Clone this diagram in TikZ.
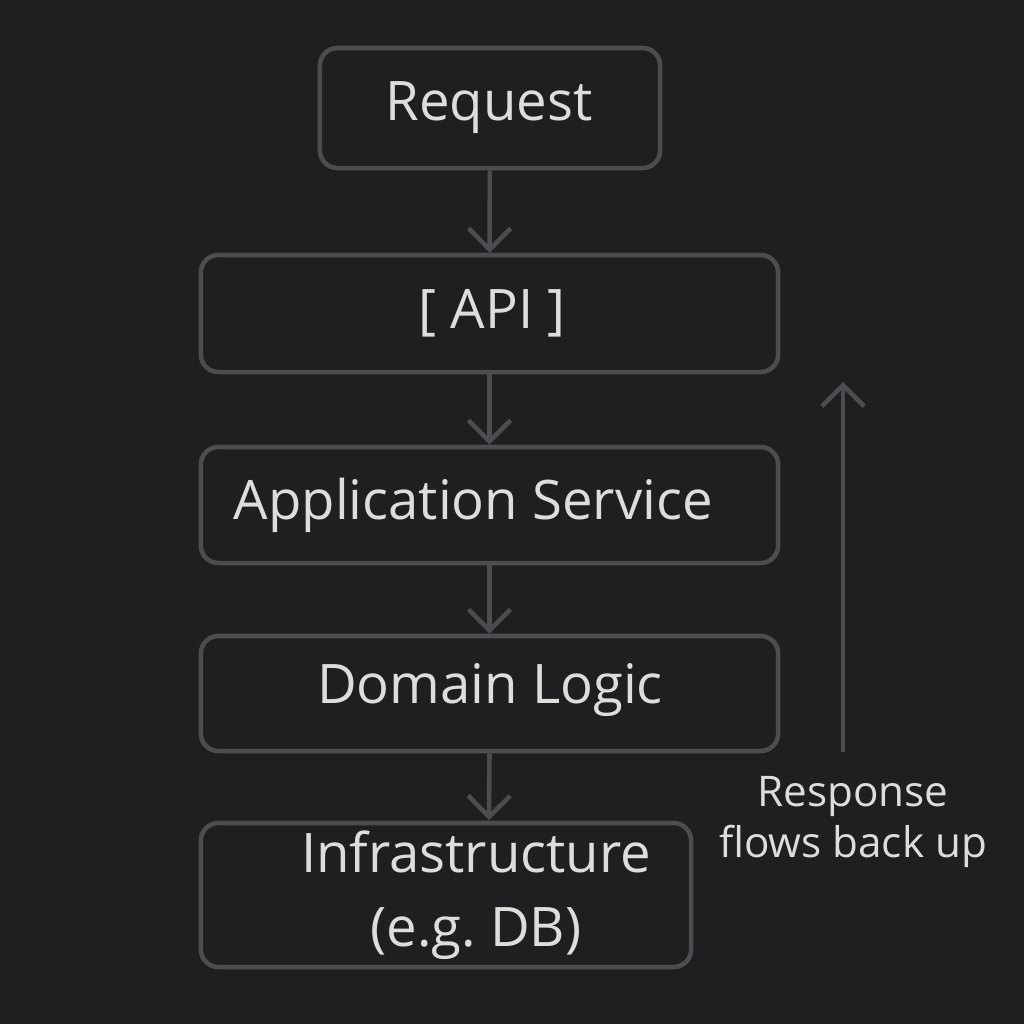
\documentclass[tikz,border=0pt]{standalone}
\usepackage{fontspec}
\setmainfont{Open Sans}
\usetikzlibrary{arrows.meta}
\definecolor{bgdark}{HTML}{1E1F21}
\definecolor{boxline}{HTML}{4C4D50}
\definecolor{labeltxt}{HTML}{DDDDDD}
\begin{document}
\begin{tikzpicture}[x=0.01cm, y=-0.01cm,
	layer/.style={draw=boxline, line width=1.3pt, rounded corners=5pt, inner sep=0pt},
	layertxt/.style={text=labeltxt, font=\fontsize{15.5}{21}\selectfont, inner sep=0pt, align=center},
	flow/.style={draw=boxline, line width=1.3pt, -{Straight Barb[length=6pt, width=12pt]}}]
	
	% Hintergrund
	\fill[bgdark] (0,0) rectangle (1024,1024);
	
	% Schichten
	\node[layer, minimum width=3.4cm, minimum height=1.2cm] (req) at (490,108) {};
	\node[layertxt] (reqlbl) at (489,108) {Request};
	\node[layer, minimum width=5.77cm, minimum height=1.17cm] (api) at (489.5,313.5) {};
	\node[layertxt] (apilbl) at (492,313) {[ API ]};
	\node[layer, minimum width=5.77cm, minimum height=1.16cm] (app) at (489.5,505) {};
	\node[layertxt, anchor=west] (applbl) at (233,505) {Application Service};
	\node[layer, minimum width=5.77cm, minimum height=1.15cm] (dom) at (489.5,693.5) {};
	\node[layertxt] (domlbl) at (490,690) {Domain Logic};
	\node[layer, minimum width=4.9cm, minimum height=1.44cm] (infra) at (446,895) {};
	\node[layertxt] (infralbl) at (476,895) {Infrastructure\\(e.g.~DB)};
	
	% Pfeile nach unten
	\draw[flow] (req) -- (api);
	\draw[flow] (api) -- (app);
	\draw[flow] (app) -- (dom);
	\coordinate (infratop) at (489,820);
	\draw[flow] (dom.south) -- (infratop);
	
	% Rueckweg
	\coordinate (upfoot) at (843,752);
	\coordinate (uphead) at (843,382);
	\draw[flow] (upfoot) -- (uphead);
	\node[text=labeltxt, font=\fontsize{12}{14.5}\selectfont, align=center] (resp) at (853,822) {Response\\flows back up};
	
\end{tikzpicture}
\end{document}
